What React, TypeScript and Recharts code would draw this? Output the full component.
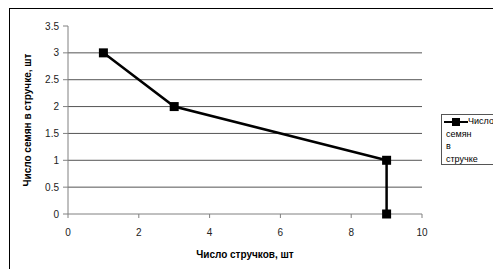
import { CartesianGrid, Label, ReferenceLine, Scatter, ScatterChart, XAxis, YAxis } from "recharts";

const SERIES_NAME = "Число семян в стручке";
const podCounts = [1, 3, 9, 9];
const seedsPerPod = [3, 2, 1, 0];
const xTicks = [0, 2, 4, 6, 8, 10];
const yTicks = [0, 0.5, 1, 1.5, 2, 2.5, 3, 3.5];
const gridValues = [0.5, 1, 1.5, 2, 2.5, 3];

const points = podCounts.map((x, i) => ({ x, y: seedsPerPod[i] }));

const font = "'Liberation Sans', Arial, sans-serif";

function Square(props: any) {
  const { cx, cy } = props;
  if (cx == null || cy == null) return null;
  return <rect x={cx - 4.5} y={cy - 4.5} width={9} height={9} fill="#000" />;
}

export default function App() {
  const words = SERIES_NAME.split(" ");
  return (
    <div style={{ position: "relative", width: 493, height: 261, fontFamily: font }}>
      <div
        style={{
          position: "absolute",
          left: 1,
          top: 0,
          width: 520,
          height: 280,
          border: "1px solid #000",
          boxSizing: "border-box",
        }}
      />
      <div style={{ position: "absolute", left: 2, top: 1 }}>
        <ScatterChart width={491} height={260} margin={{ top: 17, right: 79, bottom: 10, left: 0 }}>
          <CartesianGrid horizontal={false} vertical={false} />
          {gridValues.map((v) => (
            <ReferenceLine key={v} y={v} stroke="#555" strokeWidth={1} />
          ))}
          <XAxis
            type="number"
            dataKey="x"
            domain={[0, 10]}
            ticks={xTicks}
            interval={0}
            height={45}
            stroke="#808080"
            tickSize={4}
            tickMargin={11}
            tick={{ fill: "#222", fontSize: 10, fontFamily: font }}
          >
            <Label
              value="Число стручков, шт"
              position="insideBottom"
              offset={1}
              style={{ fontWeight: "bold", fontSize: 10, fill: "#000", fontFamily: font }}
            />
          </XAxis>
          <YAxis
            type="number"
            dataKey="y"
            domain={[0, 3.5]}
            ticks={yTicks}
            interval={0}
            width={58}
            stroke="#808080"
            tickSize={5}
            tickMargin={4}
            tick={{ fill: "#222", fontSize: 10, fontFamily: font }}
          >
            <Label
              value="Число семян в стручке, шт"
              angle={-90}
              position="insideLeft"
              offset={17}
              style={{ textAnchor: "middle", fontWeight: "bold", fontSize: 10, fill: "#000", fontFamily: font }}
            />
          </YAxis>
          <Scatter
            name={SERIES_NAME}
            data={points}
            line={{ stroke: "#000", strokeWidth: 2.5 }}
            lineType="joint"
            shape={<Square />}
            isAnimationActive={false}
          />
        </ScatterChart>
      </div>
      <div
        style={{
          position: "absolute",
          left: 433,
          top: 106,
          width: 80,
          height: 51,
          border: "1px solid #555",
          boxSizing: "border-box",
          background: "#fff",
          fontSize: 9,
          lineHeight: "12.5px",
          color: "#000",
          paddingLeft: 4,
          paddingTop: 0,
          whiteSpace: "nowrap",
        }}
      >
        <svg width={26} height={10} style={{ position: "absolute", left: 1, top: 2 }}>
          <line x1={1} y1={5} x2={25} y2={5} stroke="#000" strokeWidth={2} />
          <rect x={9} y={1} width={8} height={8} fill="#000" />
        </svg>
        {words.map((w, i) => (
          <div key={i} style={{ paddingLeft: i === 0 ? 22 : 0 }}>
            {w}
          </div>
        ))}
      </div>
    </div>
  );
}
